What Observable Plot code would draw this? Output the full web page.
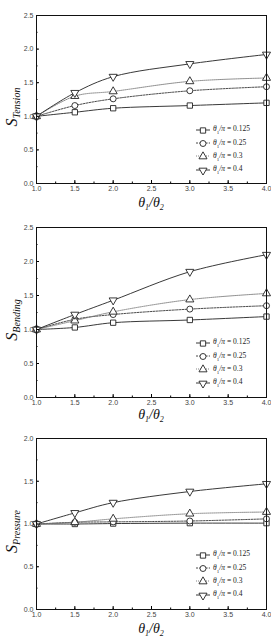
<!DOCTYPE html>
<html><head><meta charset="utf-8">
<script src="https://cdn.jsdelivr.net/npm/d3@7"></script>
<script src="https://cdn.jsdelivr.net/npm/@observablehq/plot@0.6"></script>
<style>
body{margin:0;background:#fff;}
#wrap{width:271px;}
.panel{position:relative;width:271px;}
.legend{position:absolute;font-family:"Liberation Serif","DejaVu Serif",serif;font-size:7.5px;color:#222;}
.legend .row{height:13.3px;display:flex;align-items:center;white-space:nowrap;}
.legend svg{margin-right:3px;}
</style>
</head><body><div id="wrap"></div>
<script>
const xs = [1, 1.5, 2, 3, 4];
const seriesNames = ["0.125", "0.25", "0.3", "0.4"];
const tension = {
  "0.125": [1.0, 1.06, 1.12, 1.16, 1.20],
  "0.25":  [1.0, 1.16, 1.26, 1.38, 1.44],
  "0.3":   [1.0, 1.30, 1.37, 1.52, 1.57],
  "0.4":   [1.0, 1.35, 1.59, 1.78, 1.92]
};
const bending = {
  "0.125": [1.0, 1.03, 1.10, 1.14, 1.19],
  "0.25":  [1.0, 1.15, 1.22, 1.30, 1.35],
  "0.3":   [1.0, 1.13, 1.26, 1.44, 1.53],
  "0.4":   [1.0, 1.22, 1.43, 1.85, 2.10]
};
const pressure = {
  "0.125": [1.0, 1.0, 1.005, 1.01, 1.01],
  "0.25":  [1.0, 1.02, 1.025, 1.035, 1.06],
  "0.3":   [1.0, 1.02, 1.06, 1.12, 1.14],
  "0.4":   [1.0, 1.13, 1.25, 1.38, 1.47]
};
const xTicks = [1.0, 1.5, 2.0, 2.5, 3.0, 3.5, 4.0];
const yTicks25 = [0.0, 0.5, 1.0, 1.5, 2.0, 2.5];
const yTicks20 = [0.0, 0.5, 1.0, 1.5, 2.0];

const styles = {
  "0.125": {dash: null, stroke: "#222", symbol: "square", rotate: 0},
  "0.25":  {dash: "2,1.2", stroke: "#333", symbol: "circle", rotate: 0},
  "0.3":   {dash: "1,1", stroke: "#777", symbol: "triangle", rotate: 0},
  "0.4":   {dash: null, stroke: "#222", symbol: "triangle", rotate: 180}
};

const panels = [
  {data: tension, sub: "Tension", ymax: 2.5, yticks: yTicks25, height: 212, mt: 15, mb: 29, legTop: 123},
  {data: bending, sub: "Bending", ymax: 2.5, yticks: yTicks25, height: 212, mt: 15, mb: 27, legTop: 124},
  {data: pressure, sub: "Pressure", ymax: 2.0, yticks: yTicks20, height: 214, mt: 14, mb: 29, legTop: 124}
];

const ml = 36, mr = 5, W = 271;
const wrap = document.getElementById("wrap");

for (const p of panels) {
  const rows = [];
  for (const s of seriesNames) xs.forEach((x, i) => rows.push({x, y: p.data[s][i], s}));
  const minorX = d3.range(1, 4.001, 0.25);
  const minorY = d3.range(0, p.ymax + 0.001, 0.25);
  const marks = [];
  for (const s of seriesNames) {
    const st = styles[s];
    const d = rows.filter(r => r.s === s);
    marks.push(Plot.line(d, {x: "x", y: "y", curve: "catmull-rom", stroke: st.stroke, strokeWidth: 0.9, strokeDasharray: st.dash}));
  }
  for (const s of seriesNames) {
    const st = styles[s];
    const d = rows.filter(r => r.s === s);
    marks.push(Plot.dot(d, {x: "x", y: "y", symbol: st.symbol, rotate: st.rotate, r: 3, fill: "white", stroke: "#222", strokeWidth: 0.9}));
  }
  marks.push(Plot.axisX(xTicks, {anchor: "bottom", tickSize: -3, tickPadding: 6, tickFormat: d3.format(".1f"), fontSize: 7, fill: "#444", label: null}));
  marks.push(Plot.axisX(minorX, {anchor: "bottom", tickSize: -1.5, text: null, label: null}));
  marks.push(Plot.axisY(p.yticks, {anchor: "left", tickSize: -3, tickPadding: 6, tickFormat: d3.format(".1f"), fontSize: 7, fill: "#444", label: null}));
  marks.push(Plot.axisY(minorY, {anchor: "left", tickSize: -1.5, text: null, label: null}));
  marks.push(Plot.frame({stroke: "#111", strokeWidth: 1}));

  const chart = Plot.plot({
    width: W, height: p.height,
    marginLeft: ml, marginRight: mr, marginTop: p.mt, marginBottom: p.mb,
    x: {domain: [1, 4]},
    y: {domain: [0, p.ymax]},
    style: {background: "white", fontFamily: "Liberation Sans, Arial, sans-serif"},
    marks
  });
  const div = document.createElement("div");
  div.className = "panel";
  div.appendChild(chart);
  wrap.appendChild(div);

  const svg = d3.select(chart);
  const plotTop = p.mt, plotBot = p.height - p.mb;
  const cy = (plotTop + plotBot) / 2 + 8;
  // y label
  const yl = svg.append("text")
    .attr("transform", `translate(17,${cy}) rotate(-90)`)
    .attr("text-anchor", "middle")
    .attr("font-family", "Liberation Serif, serif")
    .attr("font-style", "italic")
    .attr("fill", "#111");
  yl.append("tspan").attr("font-size", 16).text("S");
  yl.append("tspan").attr("font-size", 10).attr("dy", 3).text(p.sub);
  // x label
  const xl = svg.append("text")
    .attr("x", (ml + W - mr) / 2).attr("y", p.height - 5)
    .attr("text-anchor", "middle")
    .attr("font-family", "Liberation Serif, serif")
    .attr("font-style", "italic")
    .attr("fill", "#111");
  xl.append("tspan").attr("font-size", 14).text("θ");
  xl.append("tspan").attr("font-size", 8).attr("dy", 3).text("1");
  xl.append("tspan").attr("font-size", 14).attr("dy", -3).text("/θ");
  xl.append("tspan").attr("font-size", 8).attr("dy", 3).text("2");

  // legend
  const leg = document.createElement("div");
  leg.className = "legend";
  leg.style.left = "196px";
  leg.style.top = p.legTop + "px";
  for (const s of seriesNames) {
    const st = styles[s];
    const row = document.createElement("div");
    row.className = "row";
    const sym = d3.create("svg").attr("width", 14).attr("height", 10);
    sym.append("line").attr("x1", 0).attr("x2", 14).attr("y1", 5).attr("y2", 5)
      .attr("stroke", st.stroke).attr("stroke-width", 0.9).attr("stroke-dasharray", st.dash);
    const path = d3.symbol(st.symbol === "square" ? d3.symbolSquare : st.symbol === "circle" ? d3.symbolCircle : d3.symbolTriangle, 28)();
    sym.append("path").attr("d", path).attr("transform", `translate(7,5.5) rotate(${st.rotate})`)
      .attr("fill", "white").attr("stroke", "#222").attr("stroke-width", 0.9);
    row.appendChild(sym.node());
    const t = document.createElement("span");
    t.innerHTML = `<i>θ</i><sub style="font-size:5px">1</sub><i>/π</i> = ${s}`;
    row.appendChild(t);
    leg.appendChild(row);
  }
  div.appendChild(leg);
}
</script></body></html>
